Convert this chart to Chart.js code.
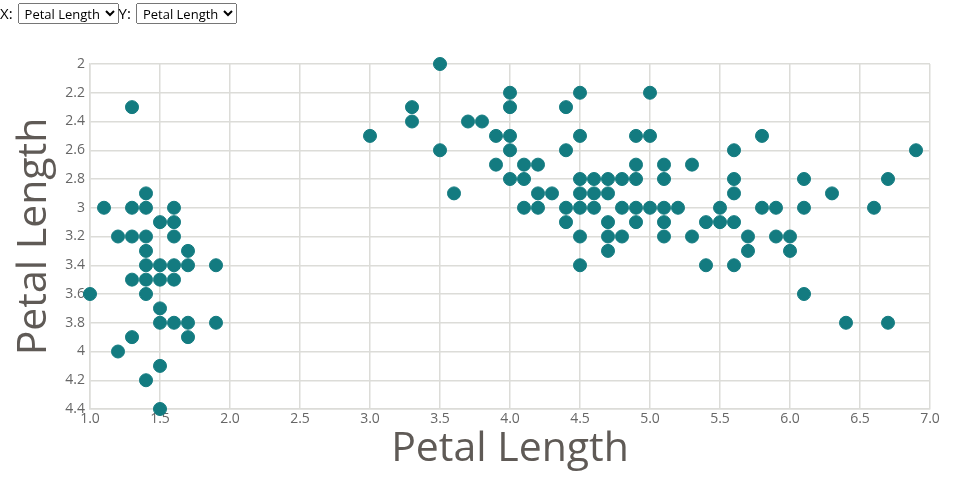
<!DOCTYPE html>
<html>
<head>
<meta charset="utf-8">
<script src="https://cdn.jsdelivr.net/npm/chart.js@4"></script>
<style>
  html, body { margin: 0; padding: 0; background: #fff; }
  body { width: 960px; height: 500px; position: relative; overflow: hidden; font-family: "Open Sans", sans-serif; }
  #controls { position: absolute; left: 0; top: 3px; font-size: 15px; line-height: 21px; color: #000; z-index: 2; white-space: nowrap; }
  #controls select { font-family: "Open Sans", sans-serif; font-size: 13px; height: 21px; width: 101px; margin: 0 0 0 5px; padding: 0 0 0 2px; vertical-align: top; }
  #wrap { position: absolute; left: 0; top: 0; width: 960px; height: 500px; }
</style>
</head>
<body>
<div id="controls">X:<select><option>Petal Length</option></select>Y:<select><option>Petal Length</option></select></div>
<div id="wrap"><canvas id="c"></canvas></div>
<script>
const xTitle = "Petal Length";
const yTitle = "Petal Length";
const xValues = [
  1.3,1.4,1.1,1.3,1.4,1.6,1.5,1.6,1.2,1.3,1.4,1.6,1.4,1.7,1.4,1.5,1.6,1.7,1.9,1.3,1.4,1.5,1.6,1.0,1.4,1.5,1.5,1.6,1.7,1.9,1.3,1.7,1.2,1.5,1.4,1.5,
  3.5,4.0,3.3,4.0,3.3,3.7,3.8,3.0,3.9,4.0,3.5,4.0,3.9,4.1,4.2,4.0,4.1,3.6,4.2,4.1,4.2,
  4.5,5.0,4.4,4.5,4.9,5.0,4.4,4.9,5.1,5.3,4.5,4.6,4.7,4.8,4.9,5.1,4.3,4.5,4.6,4.7,4.4,4.5,4.6,4.8,4.9,5.0,5.1,5.2,4.4,4.7,4.9,5.1,5.4,5.5,4.5,4.7,4.8,5.1,5.3,4.7,4.5,5.4,
  5.8,5.6,6.9,5.6,6.1,6.7,5.6,6.3,5.5,5.8,5.9,6.1,6.6,5.6,5.7,5.9,6.0,5.7,6.0,5.6,6.1,6.4,6.7
];
const yValues = [
  2.3,2.9,3.0,3.0,3.0,3.0,3.1,3.1,3.2,3.2,3.2,3.2,3.3,3.3,3.4,3.4,3.4,3.4,3.4,3.5,3.5,3.5,3.5,3.6,3.6,3.7,3.8,3.8,3.8,3.8,3.9,3.9,4.0,4.1,4.2,4.4,
  2.0,2.2,2.3,2.3,2.4,2.4,2.4,2.5,2.5,2.5,2.6,2.6,2.7,2.7,2.7,2.8,2.8,2.9,2.9,3.0,3.0,
  2.2,2.2,2.3,2.5,2.5,2.5,2.6,2.7,2.7,2.7,2.8,2.8,2.8,2.8,2.8,2.8,2.9,2.9,2.9,2.9,3.0,3.0,3.0,3.0,3.0,3.0,3.0,3.0,3.1,3.1,3.1,3.1,3.1,3.1,3.2,3.2,3.2,3.2,3.2,3.3,3.4,3.4,
  2.5,2.6,2.6,2.8,2.8,2.8,2.9,2.9,3.0,3.0,3.0,3.0,3.0,3.1,3.2,3.2,3.2,3.3,3.3,3.4,3.6,3.8,3.8
];
const xRange = [1.0, 7.0, 0.5];
const yRange = [2.0, 4.4, 0.2];

const points = xValues.map((x, i) => ({ x: x, y: yValues[i] }));
const tickColor = "#666";
const titleColor = "#5f5a56";
const gridColor = "#dcdcd8";

new Chart(document.getElementById("c"), {
  type: "scatter",
  data: {
    datasets: [{
      data: points,
      backgroundColor: "#137b80",
      borderColor: "#137b80",
      borderWidth: 1,
      pointRadius: 6.5,
      pointHoverRadius: 6.5,
      clip: false
    }]
  },
  options: {
    responsive: true,
    maintainAspectRatio: false,
    animation: false,
    layout: { padding: { top: 64, right: 30, left: 10, bottom: 26 } },
    plugins: { legend: { display: false }, tooltip: { enabled: false } },
    scales: {
      x: {
        type: "linear",
        min: xRange[0], max: xRange[1],
        ticks: { stepSize: xRange[2], color: tickColor, padding: 2, maxRotation: 0,
          font: { family: "Open Sans", size: 14 },
          callback: v => Number(v).toFixed(1) },
        grid: { color: gridColor, lineWidth: 1.5, drawTicks: false },
        border: { color: gridColor, width: 1.5 },
        title: { display: true, text: xTitle, color: titleColor, padding: { top: 0, bottom: 0 },
          font: { family: "Open Sans", size: 41 } },
        afterFit: s => { s.height = 65; }
      },
      y: {
        type: "linear",
        reverse: true,
        min: yRange[0], max: yRange[1],
        ticks: { stepSize: yRange[2], color: tickColor, padding: 5,
          font: { family: "Open Sans", size: 14 },
          callback: v => String(Math.round(v * 10) / 10) },
        grid: { color: gridColor, lineWidth: 1.5, drawTicks: false },
        border: { color: gridColor, width: 1.5 },
        title: { display: true, text: yTitle, color: titleColor, padding: { top: 0, bottom: 0 },
          font: { family: "Open Sans", size: 41 } },
        afterFit: s => { s.width = 80; }
      }
    }
  }
});
</script>
</body>
</html>
